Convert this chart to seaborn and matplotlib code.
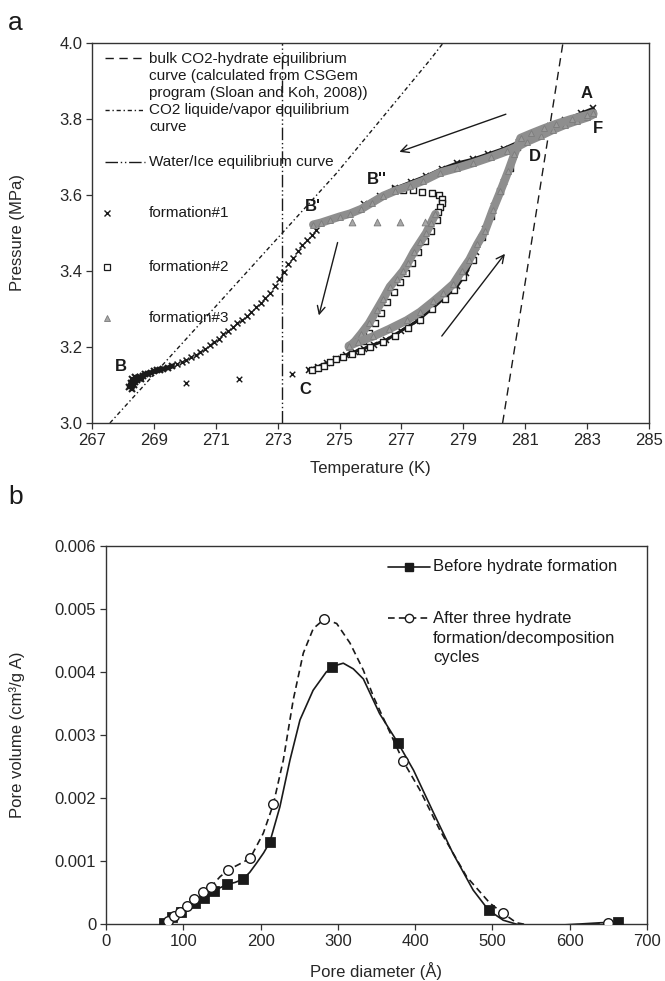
import matplotlib
matplotlib.use('Agg')
import matplotlib.pyplot as plt
import seaborn as sns
from matplotlib.lines import Line2D

# ---- panel a data ----
# equilibrium curves
hyd_T = [280.27, 281.0, 281.6, 282.22]
hyd_P = [3.0, 3.37, 3.68, 4.0]
lv_T = [267.58, 274.9, 277.92, 278.35]
lv_P = [3.0, 3.657, 3.955, 4.0]
ice_T = [273.15, 273.15]
ice_P = [3.0, 4.0]

# formation#1 (x) : B cluster + cooling branch
f1_B_T = [268.2, 268.25, 268.3, 268.3, 268.35, 268.4, 268.4, 268.45, 268.5, 268.55, 268.6, 268.65,
          268.7, 268.8, 268.9, 269.0, 269.1, 269.2, 269.3, 269.45, 269.6]
f1_B_P = [3.095, 3.105, 3.09, 3.115, 3.1, 3.108, 3.12, 3.112, 3.118, 3.122, 3.115, 3.125,
          3.128, 3.13, 3.132, 3.136, 3.139, 3.14, 3.142, 3.145, 3.15]
f1_rise_T = [269.75, 269.9, 270.05, 270.2, 270.35, 270.5, 270.65, 270.8, 270.95, 271.1, 271.25, 271.4,
             271.55, 271.7, 271.85, 272.0, 272.15, 272.3, 272.45, 272.6, 272.75, 272.9, 273.05, 273.2,
             273.35, 273.5, 273.65, 273.8, 273.95, 274.1, 274.25]
f1_rise_P = [3.155, 3.16, 3.166, 3.173, 3.18, 3.188, 3.196, 3.204, 3.212, 3.222, 3.233, 3.243,
             3.253, 3.262, 3.272, 3.282, 3.293, 3.305, 3.317, 3.329, 3.342, 3.36, 3.38, 3.398,
             3.418, 3.435, 3.452, 3.468, 3.482, 3.495, 3.508]
f1_iso_T = [270.04, 271.76, 273.46]
f1_iso_P = [3.106, 3.116, 3.129]
f1_up_T = [275.8, 276.3, 276.8, 277.3, 277.8, 278.3, 278.8, 279.3, 279.8, 280.3, 280.8, 281.3,
           281.8, 282.3, 282.8, 283.2]
f1_up_P = [3.575, 3.597, 3.618, 3.634, 3.65, 3.669, 3.684, 3.694, 3.708, 3.722, 3.74, 3.76,
           3.781, 3.798, 3.815, 3.828]
f1_low_T = [274.0, 274.3, 274.6, 274.9, 275.2, 275.5, 275.8, 276.1, 276.5, 277.0, 277.5, 278.0,
            278.4, 278.8, 279.1, 279.4, 279.7, 280.0, 280.3, 280.6, 280.85]
f1_low_P = [3.14, 3.148, 3.158, 3.168, 3.178, 3.188, 3.196, 3.206, 3.218, 3.243, 3.268, 3.302,
            3.33, 3.36, 3.395, 3.45, 3.51, 3.57, 3.635, 3.70, 3.745]

# formation#2 (open squares)
f2_curl_T = [276.8, 277.06, 277.38, 277.65, 277.98, 278.2, 278.3, 278.3, 278.25, 278.19]
f2_curl_P = [3.615, 3.613, 3.613, 3.609, 3.604, 3.6, 3.59, 3.58, 3.569, 3.556]
f2_loop_T = [278.15, 277.95, 277.75, 277.55, 277.35, 277.15, 276.95, 276.75, 276.55, 276.35, 276.15,
             275.95, 275.75]
f2_loop_P = [3.535, 3.505, 3.48, 3.45, 3.42, 3.395, 3.37, 3.345, 3.318, 3.29, 3.262, 3.238, 3.215]
f2_low_T = [274.1, 274.3, 274.5, 274.7, 274.9, 275.1, 275.4, 275.7, 276.0, 276.4, 276.8, 277.2,
            277.6, 278.0, 278.4, 278.7, 279.0, 279.3, 279.6, 279.9, 280.2, 280.5, 280.75]
f2_low_P = [3.14, 3.145, 3.15, 3.16, 3.168, 3.175, 3.182, 3.19, 3.2, 3.212, 3.228, 3.25,
            3.272, 3.3, 3.325, 3.35, 3.385, 3.43, 3.49, 3.545, 3.61, 3.67, 3.725]

# formation#3 (grey triangles)
f3_up_T = [274.15, 274.4, 274.7, 275.0, 275.34, 275.7, 276.05, 276.42, 276.8, 277.28, 277.7, 278.25,
           278.8, 279.32, 279.9, 280.4, 280.75, 281.05, 281.5, 281.91, 282.3, 282.66, 283.0, 283.2]
f3_up_P = [3.522, 3.527, 3.535, 3.543, 3.551, 3.563, 3.58, 3.598, 3.611, 3.624, 3.637, 3.659,
           3.671, 3.684, 3.7, 3.715, 3.727, 3.74, 3.756, 3.772, 3.785, 3.795, 3.804, 3.812]
f3_iso_T = [275.4, 276.2, 276.95, 277.76]
f3_iso_P = [3.53, 3.53, 3.53, 3.53]
f3_loop_T = [278.1, 277.95, 277.8, 277.6, 277.4, 277.2, 277.05, 276.85, 276.63, 276.4, 276.2, 275.95,
             275.7, 275.5, 275.3]
f3_loop_P = [3.55, 3.525, 3.5, 3.475, 3.45, 3.42, 3.4, 3.38, 3.359, 3.325, 3.297, 3.262,
             3.235, 3.215, 3.2]
f3_low_T = [275.3, 275.6, 276.09, 276.6, 277.17, 277.6, 278.03, 278.35, 278.68, 278.95, 279.2, 279.45,
            279.7, 279.95, 280.2, 280.45, 280.65, 280.85, 281.2, 281.6, 282.0, 282.5, 283.0, 283.2]
f3_low_P = [3.203, 3.213, 3.228, 3.247, 3.27, 3.292, 3.32, 3.342, 3.366, 3.4, 3.43, 3.47,
            3.505, 3.56, 3.61, 3.662, 3.707, 3.75, 3.762, 3.775, 3.787, 3.8, 3.81, 3.815]

# point labels and arrows
pt_labels = ['A', 'F', 'D', "B''", "B'", 'B', 'C']
pt_T = [282.99, 283.36, 281.32, 276.2, 274.15, 267.93, 273.88]
pt_P = [3.868, 3.776, 3.70, 3.64, 3.569, 3.148, 3.087]
arrows = [((280.46, 3.815), (276.85, 3.711)),
          ((274.96, 3.482), (274.31, 3.276)),
          ((278.25, 3.223), (280.40, 3.451))]

# ---- panel b data ----
before_d = [75, 86, 97, 115, 127, 140, 157, 177, 212, 292, 378, 495, 662]
before_v = [0.00002, 0.00011, 0.00019, 0.00034, 0.00042, 0.00053, 0.00063, 0.00071, 0.0013,
            0.00408, 0.00287, 0.00022, 0.00003]
after_d = [80.6, 88.4, 95.7, 104.4, 114.3, 125.9, 135.9, 158.3, 186.3, 216.5, 282.5, 384.7, 514, 650]
after_v = [0.00004, 0.00012, 0.00019, 0.00029, 0.00039, 0.00051, 0.00059, 0.00086, 0.00104,
           0.0019, 0.00484, 0.00258, 0.00017, 0.00001]
before_curve_d = [75, 86, 97, 115, 127, 140, 157, 167, 177, 186, 195, 204, 212, 225, 238, 251, 268,
                  285, 296, 307, 320, 333, 354, 378, 398, 424, 449, 475, 495, 514, 536, 570, 613,
                  640, 662]
before_curve_v = [0.00002, 0.00011, 0.00019, 0.00034, 0.00042, 0.00053, 0.00063, 0.00066, 0.00071,
                  0.00082, 0.00097, 0.00113, 0.0013, 0.00186, 0.0026, 0.00324, 0.00371, 0.004,
                  0.0041, 0.00414, 0.00405, 0.00389, 0.00334, 0.00287, 0.00244, 0.00176, 0.00112,
                  0.00054, 0.00022, 0.00006, -0.00002, -0.00003, 0.0, 0.00002, 0.00003]
after_curve_d = [80.6, 88.4, 95.7, 104.4, 114.3, 125.9, 135.9, 147.5, 158.3, 171, 186.3, 203.5,
                 216.5, 229.4, 242.3, 255.3, 268.2, 282.5, 298.5, 315.7, 333, 346, 384.7, 406, 432,
                 466.7, 496.8, 514, 531, 548.6, 580, 620, 650]
after_curve_v = [0.00004, 0.00012, 0.00019, 0.00029, 0.00039, 0.00051, 0.00059, 0.00075, 0.00086,
                 0.00094, 0.00104, 0.00144, 0.0019, 0.0026, 0.00356, 0.0043, 0.00469, 0.00484,
                 0.00477, 0.00446, 0.00403, 0.00361, 0.00258, 0.00213, 0.00149, 0.00075, 0.00033,
                 0.00017, 0.00002, -0.00002, -0.00002, -0.00001, 0.00001]

GREY = '#8e8e8e'
INK = '#1a1a1a'

sns.set_style('ticks')
plt.rcParams['font.family'] = ['Liberation Sans', 'DejaVu Sans']
plt.rcParams['axes.edgecolor'] = '#333333'
plt.rcParams['axes.linewidth'] = 1.0

fig = plt.figure(figsize=(6.65, 9.81), dpi=100)
ax = fig.add_axes([0.1383, 0.5688, 0.8376, 0.3874])
bx = fig.add_axes([0.1594, 0.0581, 0.8135, 0.3853])

# ---------------- panel a ----------------
sns.lineplot(x=hyd_T, y=hyd_P, sort=False, estimator=None, ax=ax, color=INK, lw=1.0,
             linestyle=(0, (6, 4)))
sns.lineplot(x=lv_T, y=lv_P, sort=False, estimator=None, ax=ax, color=INK, lw=1.0,
             linestyle=(0, (3, 2, 1, 2)))
sns.lineplot(x=ice_T, y=ice_P, sort=False, estimator=None, ax=ax, color=INK, lw=1.0,
             linestyle=(0, (9, 2, 1, 2, 1, 2)))

# formation#1 black
for tt, pp in [(f1_up_T, f1_up_P), (f1_low_T, f1_low_P)]:
    sns.lineplot(x=tt, y=pp, sort=False, estimator=None, ax=ax, color=INK, lw=2.2,
                 marker='x', ms=4, mew=1.1, mec=INK)
sns.lineplot(x=f1_B_T, y=f1_B_P, sort=False, estimator=None, ax=ax, color=INK, lw=3.5,
             marker='x', ms=5, mew=1.5, mec=INK)
sns.scatterplot(x=f1_rise_T, y=f1_rise_P, ax=ax, marker='x', color=INK, s=18, linewidth=1.1)
sns.scatterplot(x=f1_iso_T, y=f1_iso_P, ax=ax, marker='x', color=INK, s=16, linewidth=1.0)

# formation#2 squares
for tt, pp in [(f2_curl_T, f2_curl_P), (f2_loop_T, f2_loop_P), (f2_low_T, f2_low_P)]:
    sns.scatterplot(x=tt, y=pp, ax=ax, marker='s', s=18, facecolor='white',
                    edgecolor=INK, linewidth=1.0, zorder=3)

# formation#3 grey band
for tt, pp in [(f3_up_T, f3_up_P), (f3_loop_T, f3_loop_P), (f3_low_T, f3_low_P)]:
    sns.lineplot(x=tt, y=pp, sort=False, estimator=None, ax=ax, color=GREY, lw=6.0,
                 marker='^', ms=4.5, mfc='#9a9a9a', mec='#7c7c7c', mew=0.6,
                 solid_capstyle='round', zorder=4)
sns.scatterplot(x=f3_iso_T, y=f3_iso_P, ax=ax, marker='^', s=24, color='#a8a8a8',
                edgecolor='#7a7a7a', linewidth=0.6, zorder=4)

for lab, tt, pp in zip(pt_labels, pt_T, pt_P):
    ax.text(tt, pp, lab, fontsize=12, fontweight='bold', ha='center', va='center', color=INK,
            zorder=6)
for start, end in arrows:
    ax.annotate('', xy=end, xytext=start,
                arrowprops=dict(arrowstyle='->', color=INK, lw=1.0, mutation_scale=14))

ax.set_xlim(267, 285)
ax.set_ylim(3.0, 4.0)
ax.set_xticks(list(range(267, 286, 2)))
ax.set_yticks([3.0, 3.2, 3.4, 3.6, 3.8, 4.0])
ax.set_yticklabels(['3.0', '3.2', '3.4', '3.6', '3.8', '4.0'])
ax.tick_params(direction='out', length=4, width=0.9, labelsize=12, pad=3, color='#333333')
ax.set_xlabel('Temperature (K)', fontsize=12)
ax.set_ylabel('Pressure (MPa)', fontsize=12)
ax.xaxis.set_label_coords(0.5, -0.1)
ax.yaxis.set_label_coords(-0.12, 0.5)

# hand-placed legend (handles align with first text line)
def afy(py):
    return (423 - py) / 380.0
leg_lines = [('bulk CO2-hydrate equilibrium', 59), ('curve (calculated from CSGem', 76),
             ('program (Sloan and Koh, 2008))', 93), ('CO2 liquide/vapor equilibrium', 110),
             ('curve', 127), ('Water/Ice equilibrium curve', 162), ('formation#1', 213),
             ('formation#2', 267), ('formation#3', 318)]
for txt, py in leg_lines:
    ax.text(0.1023, afy(py), txt, transform=ax.transAxes, fontsize=11, va='center',
            ha='left', color=INK)
for ls, py in [((0, (6, 4)), 58), ((0, (3, 2, 1, 2)), 110), ((0, (9, 2, 1, 2, 1, 2)), 162)]:
    ax.add_line(Line2D([0.0233, 0.0952], [afy(py), afy(py)], transform=ax.transAxes,
                       color=INK, lw=1.0, linestyle=ls))
ax.add_line(Line2D([0.027], [afy(213)], transform=ax.transAxes, marker='x', color=INK,
                   ms=4, mew=1.0, lw=0))
ax.add_line(Line2D([0.027], [afy(267)], transform=ax.transAxes, marker='s', mfc='white',
                   mec=INK, ms=4, mew=0.9, lw=0))
ax.add_line(Line2D([0.027], [afy(318)], transform=ax.transAxes, marker='^', mfc='#a8a8a8',
                   mec='#7a7a7a', ms=4.5, mew=0.6, lw=0))

# ---------------- panel b ----------------
sns.lineplot(x=before_curve_d, y=before_curve_v, sort=False, estimator=None, ax=bx, color=INK,
             lw=1.2)
sns.lineplot(x=after_curve_d, y=after_curve_v, sort=False, estimator=None, ax=bx, color=INK,
             lw=1.2, linestyle=(0, (4, 2.5)))
sns.scatterplot(x=before_d, y=before_v, ax=bx, marker='s', s=48, color=INK, edgecolor=INK,
                zorder=4)
sns.scatterplot(x=after_d, y=after_v, ax=bx, marker='o', s=48, facecolor='white',
                edgecolor=INK, linewidth=1.0, zorder=4)

bx.set_xlim(0, 700)
bx.set_ylim(0, 0.006)
bx.set_xticks(list(range(0, 701, 100)))
bx.set_yticks([0, 0.001, 0.002, 0.003, 0.004, 0.005, 0.006])
bx.set_yticklabels(['0', '0.001', '0.002', '0.003', '0.004', '0.005', '0.006'])
bx.tick_params(direction='out', length=4, width=0.9, labelsize=12, pad=3, color='#333333')
bx.set_xlabel('Pore diameter (Å)', fontsize=12)
bx.set_ylabel('Pore volume (cm³/g A)', fontsize=12)
bx.xaxis.set_label_coords(0.5, -0.1)
bx.yaxis.set_label_coords(-0.15, 0.5)

def bfy(py):
    return (924 - py) / 378.0
for txt, py in [('Before hydrate formation', 566.7), ('After three hydrate', 618),
                ('formation/decomposition', 638), ('cycles', 657)]:
    bx.text(0.6044, bfy(py), txt, transform=bx.transAxes, fontsize=12, va='center',
            ha='left', color=INK)
bx.add_line(Line2D([0.5213, 0.5989], [bfy(566.7)] * 2, transform=bx.transAxes, color=INK,
                   lw=1.2))
bx.add_line(Line2D([0.56], [bfy(566.7)], transform=bx.transAxes, marker='s', color=INK,
                   ms=6, lw=0))
bx.add_line(Line2D([0.5213, 0.5989], [bfy(618)] * 2, transform=bx.transAxes, color=INK,
                   lw=1.2, linestyle=(0, (4, 2.5))))
bx.add_line(Line2D([0.56], [bfy(618)], transform=bx.transAxes, marker='o', mfc='white',
                   mec=INK, ms=6, lw=0))

fig.text(8 / 665, 1 - 23 / 981, 'a', fontsize=19, ha='left', va='center', color=INK)
fig.text(8 / 665, 1 - 497 / 981, 'b', fontsize=19, ha='left', va='center', color=INK)

fig.savefig('out.png', dpi=100)
